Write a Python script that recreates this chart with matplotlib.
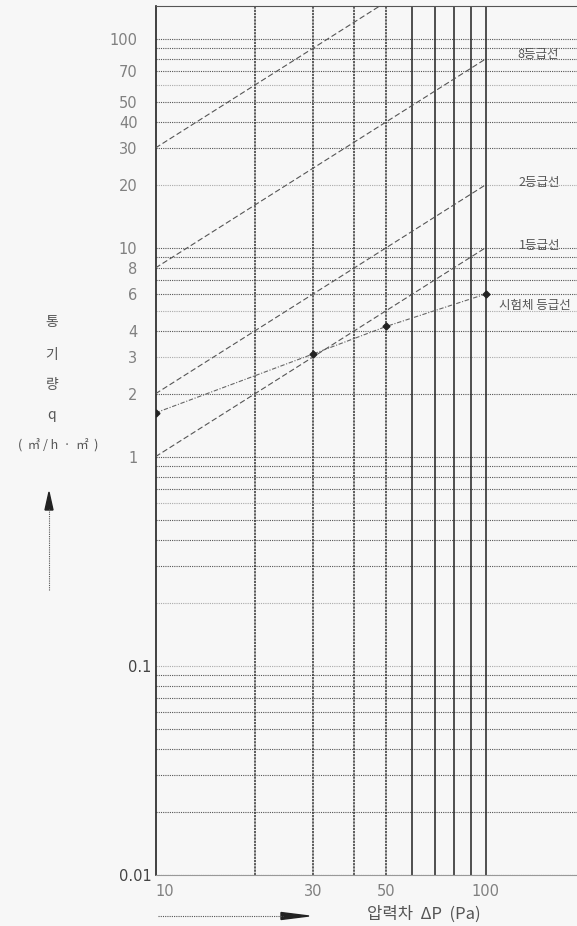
import matplotlib
matplotlib.use('Agg')
import matplotlib.pyplot as plt
import matplotlib.transforms as mtransforms
from matplotlib.lines import Line2D
from matplotlib.patches import Polygon
from matplotlib.ticker import NullLocator

plt.rcParams['font.family'] = ['Noto Sans CJK KR', 'DejaVu Sans']

# ====data====
# grade lines (q at 10 Pa and 100 Pa)
dp_grade = [10, 100]
grade_30 = [30, 300]
grade_8 = [8, 80]
grade_2 = [2, 20]
grade_1 = [1, 10]
# measured specimen
dp_test = [10, 30, 50, 100]
q_test = [1.62, 3.1, 4.2, 6.0]

x_ticks = [10, 30, 50, 100]
x_tick_labels = ['10', '30', '50', '100']
y_ticks = [0.01, 0.1, 1, 2, 3, 4, 6, 8, 10, 20, 30, 40, 50, 70, 100]
y_tick_labels = ['0.01', '0.1', '1', '2', '3', '4', '6', '8', '10', '20', '30', '40', '50', '70', '100']

v_dotted = [20, 30, 40, 50]
v_solid = [60, 70, 80, 90, 100]
h_grid = [m * d for d in [0.01, 0.1, 1, 10] for m in range(1, 10)] + [100]
h_light = [60, 20, 5, 3, 0.6, 0.2, 0.1]

# grade labels: (text, x, y)
grade_labels = [('8등급선', 125, 84), ('2등급선', 126, 20.5), ('1등급선', 126, 10.2),
                ('시험체 등급선', 110, 5.3)]

# ====figure setup====
W, H = 577, 926
def fx(x):
    return x / W
def fy(y):
    return 1 - y / H

bg = '#f7f7f7'
fig = plt.figure(figsize=(W / 100, H / 100), dpi=100, facecolor=bg)
ax = fig.add_axes([fx(155.5), fy(874.7), fx(577 - 155.5), (874.7 - 6) / H])
ax.set_facecolor(bg)
ax.set_xscale('log')
ax.set_yscale('log')
ax.set_xlim(10, 189)
ax.set_ylim(0.01, 143.3)
ax.xaxis.set_minor_locator(NullLocator())
ax.yaxis.set_minor_locator(NullLocator())

# grid lines
for v in h_grid:
    if any(abs(v - l) < 1e-9 for l in h_light):
        ax.axhline(v, color='#aaaaaa', lw=0.8, ls=(0, (1, 1)), zorder=1)
    else:
        ax.axhline(v, color='#555555', lw=0.8, ls=(0, (1, 1)), zorder=1)
for v in v_dotted:
    ax.axvline(v, color='#333333', lw=1.1, ls=(0, (1.5, 0.6)), zorder=1)
for v in v_solid:
    ax.axvline(v, color='#222222', lw=1.1, zorder=1)

# spines
ax.spines['right'].set_visible(False)
ax.spines['left'].set_color('#222222')
ax.spines['left'].set_linewidth(1.2)
ax.spines['top'].set_color('#555555')
ax.spines['top'].set_linestyle((0, (1, 1)))
ax.spines['top'].set_linewidth(0.8)
ax.spines['bottom'].set_color('#999999')
ax.spines['bottom'].set_linestyle((0, (1, 1)))
ax.spines['bottom'].set_linewidth(0.8)

# grade lines
for q in [grade_30, grade_8, grade_2, grade_1]:
    ax.plot(dp_grade, q, color='#555555', lw=0.8, dashes=(5, 2.5), zorder=3)

# measured line
ax.plot(dp_test, q_test, color='#666666', lw=0.8, ls=(0, (4, 1.5, 1, 1.5)), zorder=3,
        marker='D', markersize=3.5, markerfacecolor='#222222', markeredgecolor='#222222')

for txt, x, y in grade_labels:
    ax.text(x, y, txt, fontsize=9, color='#555555', ha='left', va='center')

# ticks
ax.tick_params(length=0, labelcolor='#808080', labelsize=10.5)
ax.set_xticks(x_ticks)
ax.set_xticklabels(x_tick_labels, family='DejaVu Sans')
ax.set_yticks(y_ticks)
ax.set_yticklabels(y_tick_labels, family='DejaVu Sans')
ax.tick_params(axis='y', pad=13)
ax.tick_params(axis='x', pad=7)
ax.get_xticklabels()[0].set_horizontalalignment('left')
shift = mtransforms.ScaledTranslation(14 / 100, 0, fig.dpi_scale_trans)
for lab in ax.get_yticklabels():
    if lab.get_text().startswith('0.'):
        lab.set_transform(lab.get_transform() + shift)
        lab.set_color('#444444')

# y axis label (vertical stack)
for txt, y in [('통', 321.7), ('기', 355), ('량', 385), ('q', 415)]:
    fig.text(fx(51.7), fy(y), txt, fontsize=10, color='#555555', ha='center', va='center')
fig.text(fx(58), fy(446), '(  ㎥ / h  ·  ㎡  )', fontsize=9, color='#555555', ha='center', va='center')

# up arrow
fig.add_artist(Line2D([fx(49), fx(49)], [fy(590), fy(508)], transform=fig.transFigure,
                      color='#555555', lw=0.8, ls=(0, (1, 1))))
fig.add_artist(Polygon([[fx(45), fy(510)], [fx(53), fy(510)], [fx(49), fy(492)]],
                       closed=True, transform=fig.transFigure, color='#222222'))

# right arrow
fig.add_artist(Line2D([fx(158), fx(283)], [fy(916), fy(916)], transform=fig.transFigure,
                      color='#555555', lw=0.8, ls=(0, (1, 1))))
fig.add_artist(Polygon([[fx(281), fy(912.5)], [fx(281), fy(919.5)], [fx(309), fy(916)]],
                       closed=True, transform=fig.transFigure, color='#222222'))

fig.text(fx(424), fy(914), '압력차  ΔP  (Pa)', fontsize=12, color='#555555', ha='center', va='center')

fig.savefig('out.png', dpi=100, facecolor=bg)
